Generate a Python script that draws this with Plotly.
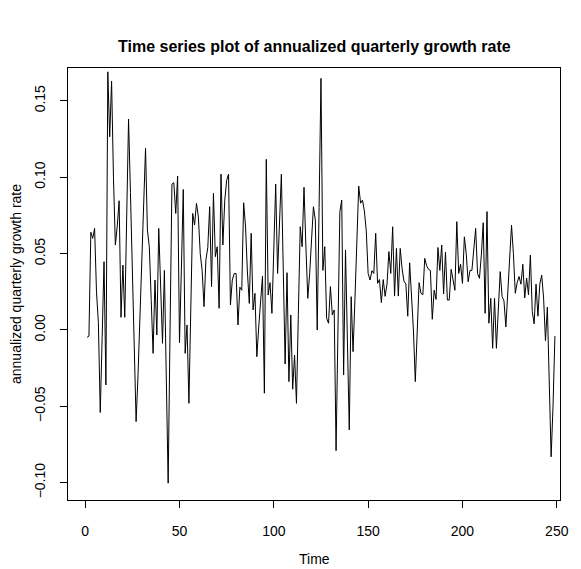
import plotly.graph_objects as go

growth_rate = [
    -0.0048, -0.004, 0.064, 0.060, 0.0665, 0.025, 0.005, -0.054, -0.005, 0.0447,
    -0.036, 0.169, 0.1265, 0.163, 0.10, 0.0556, 0.068, 0.0846, 0.0083, 0.0425,
    0.0083, 0.07, 0.138, 0.09, 0.045, 0.0, -0.060, -0.03, 0.01, 0.05,
    0.085, 0.119, 0.0654, 0.0545, 0.02, -0.0153, 0.0327, -0.0033, 0.0665, 0.03,
    -0.0087, 0.039, -0.03, -0.1003, 0.0, 0.0955, 0.0964, 0.0763, 0.1008, -0.0083,
    0.04, 0.092, -0.0153, 0.0033, -0.048, 0.015, 0.0763, 0.0687, 0.0829, 0.074,
    0.050, 0.039, 0.0153, 0.0458, 0.054, 0.0807, 0.0284, 0.0894, 0.048, 0.0545,
    0.0142, 0.102, 0.0556, 0.085, 0.098, 0.102, 0.0164, 0.0327, 0.037, 0.037,
    0.0033, 0.028, 0.026, 0.0833, 0.068, 0.038, 0.0174, 0.0633, 0.0131, 0.024,
    -0.0175, 0.002, 0.0196, 0.0353, -0.0414, 0.1117, 0.0229, 0.031, 0.0109, 0.06,
    0.0955, 0.037, 0.07, 0.102, 0.04, -0.0223, 0.0375, -0.0338, 0.0098, -0.0388,
    -0.0164, -0.048, 0.01, 0.0676, 0.0545, 0.0934, 0.055, 0.0207, 0.037, 0.059,
    0.0807, 0.072, 0.0, 0.08, 0.1647, 0.039, 0.0545, 0.0077, 0.0044, 0.0284,
    0.0098, 0.0131, -0.079, 0.0, 0.0775, 0.085, -0.0295, 0.0524, -0.01, -0.0654,
    0.0218, -0.0142, 0.02, 0.06, 0.0942, 0.083, 0.085, 0.078, 0.065, 0.037,
    0.0327, 0.0388, 0.037, 0.0633, 0.0305, 0.033, 0.0179, 0.033, 0.022, 0.03,
    0.0513, 0.037, 0.0676, 0.0222, 0.0534, 0.0222, 0.0534, 0.04, 0.032, 0.03,
    0.009, 0.044, 0.02, 0.0, -0.0338, 0.0, 0.031, 0.024, 0.023, 0.0469,
    0.042, 0.0397, 0.039, 0.007, 0.026, 0.020, 0.054, 0.039, 0.0556, 0.0236,
    0.051, 0.0196, 0.0196, 0.0397, 0.033, 0.026, 0.0709, 0.037, 0.043, 0.0305,
    0.061, 0.05, 0.0316, 0.039, 0.039, 0.052, 0.0665, 0.037, 0.0338, 0.049,
    0.0702, 0.0109, 0.0775, 0.0044, 0.0207, -0.012, 0.0207, -0.012, 0.01, 0.0382,
    0.022, 0.019, 0.002, 0.024, 0.044, 0.0687, 0.05, 0.024, 0.031, 0.035,
    0.030, 0.043, 0.021, 0.034, 0.023, 0.049, 0.012, 0.004, 0.030, 0.009,
    0.030, 0.036, 0.021, -0.007, 0.015, -0.027, -0.083, -0.05, -0.004,
]
time_index = list(range(1, len(growth_rate) + 1))

x_ticks = [0, 50, 100, 150, 200, 250]
y_ticks = [-0.10, -0.05, 0.00, 0.05, 0.10, 0.15]
y_tick_labels = ["\u22120.10", "\u22120.05", "0.00", "0.05", "0.10", "0.15"]

title_text = "Time series plot of annualized quarterly growth rate"
x_title = "Time"
y_title = "annualized quarterly growth rate"

# axis limits as they appear in the reference frame
x_range = [-9.1, 251.7]
y_range = [-0.1113, 0.1715]

FONT = "Liberation Sans, Arial, Helvetica, sans-serif"
AX_SIZE = 14
TITLE_SIZE = 16

fig = go.Figure()
fig.add_trace(go.Scatter(x=time_index, y=growth_rate, mode="lines",
                         line=dict(color="black", width=1), showlegend=False,
                         hoverinfo="skip", cliponaxis=False))

axis_common = dict(showgrid=False, zeroline=False, showline=True, mirror=True,
                   linecolor="black", linewidth=1, ticks="outside", ticklen=7,
                   tickcolor="black", tickwidth=1,
                   tickfont=dict(family=FONT, size=AX_SIZE, color="black"))

fig.update_xaxes(range=x_range, tickmode="array", tickvals=x_ticks,
                 ticktext=[str(v) for v in x_ticks], ticklabelstandoff=11,
                 **axis_common)
fig.update_yaxes(range=y_range, tickmode="array", tickvals=y_ticks,
                 ticktext=y_tick_labels, tickangle=-90, ticklabelstandoff=9,
                 **axis_common)

fig.update_layout(
    width=581, height=569,
    margin=dict(l=68, r=16, t=68, b=69, pad=0),
    paper_bgcolor="white", plot_bgcolor="white",
    font=dict(family=FONT, color="black"),
    annotations=[
        dict(text="<b>" + title_text + "</b>", xref="paper", yref="paper",
             x=0.5, y=1, yshift=22, showarrow=False, xanchor="center",
             yanchor="middle", font=dict(family=FONT, size=TITLE_SIZE, color="black")),
        dict(text=x_title, xref="paper", yref="paper", x=0.5, y=0, yshift=-59,
             showarrow=False, xanchor="center", yanchor="middle",
             font=dict(family=FONT, size=AX_SIZE, color="black")),
        dict(text=y_title, xref="paper", yref="paper", x=0, y=0.5, xshift=-52,
             textangle=-90, showarrow=False, xanchor="center", yanchor="middle",
             font=dict(family=FONT, size=AX_SIZE, color="black")),
    ],
)

fig.write_html(
    "out.html",
    config={"displayModeBar": False, "staticPlot": True},
    post_script="document.body.style.margin='0';document.body.style.padding='0';"
                "document.body.style.overflow='hidden';",
)
